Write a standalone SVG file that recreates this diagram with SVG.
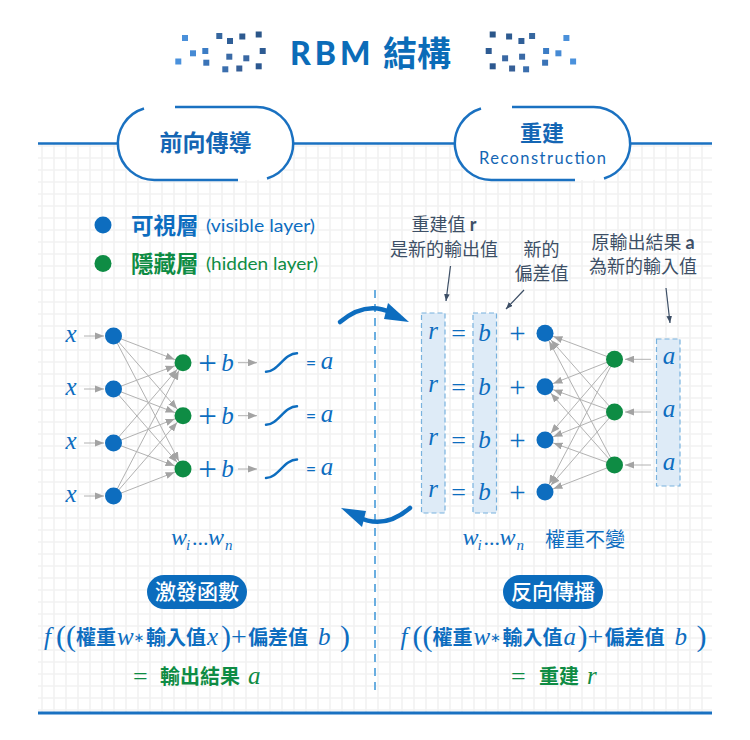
<svg xmlns="http://www.w3.org/2000/svg" width="750" height="740" viewBox="0 0 750 740">
  <defs>
    <style>
      .cjk { font-family: 'Noto Sans CJK TC', sans-serif; }
      .lat { font-family: Lato, 'Noto Sans CJK TC', sans-serif; }
      .mi { font-family: 'Liberation Serif', 'DejaVu Serif', serif; font-style: italic; }
      .mu { font-family: 'Liberation Serif', 'DejaVu Serif', serif; }
      .blue { fill: #0d6dbf; }
      .grn { fill: #0e8c44; }
      .note { fill: #3d4f66; font-size: 18px; }
      .vis { fill: #0d6dbf; }
      .hid { fill: #0e8c44; }
      .edge { stroke: #b2b2b2; stroke-width: 1; fill: none; }
      .frame { stroke: #1a71c1; fill: none; }
      .box { fill: #deebf7; stroke: #79b2de; stroke-width: 1.2; stroke-dasharray: 5 3; }
      .sq { stroke: none; }
      .ast { font-family: 'DejaVu Sans', sans-serif; font-size: 13px; }
    </style>
    <pattern id="grid" width="12" height="12" patternUnits="userSpaceOnUse" x="36" y="140">
      <path d="M6,0 V12 M0,6 H12" stroke="#f2f2f2" stroke-width="1.6" fill="none"/>
    </pattern>
    <!-- plain arrowhead, tip at the line end -->
    <marker id="ah" viewBox="0 0 10 8" refX="10" refY="4" markerWidth="9" markerHeight="7.2" markerUnits="userSpaceOnUse" orient="auto">
      <path d="M0,0 L10,4 L0,8 z" fill="#a3a3a3"/>
    </marker>
    <!-- arrowhead that stops at the rim of a node (r≈9) -->
    <marker id="ahn" viewBox="0 0 10 8" refX="20" refY="4" markerWidth="9" markerHeight="7.2" markerUnits="userSpaceOnUse" orient="auto">
      <path d="M0,0 L10,4 L0,8 z" fill="#a3a3a3"/>
    </marker>
    <marker id="ahd" viewBox="0 0 10 8" refX="10" refY="4" markerWidth="7" markerHeight="6" markerUnits="userSpaceOnUse" orient="auto">
      <path d="M0,0 L10,4 L0,8 z" fill="#3d4f66"/>
    </marker>
    <g id="pill">
      <path d="M154.5,107 H256.5 A36.5,36.5 0 0 1 256.5,180 H154.5 A36.5,36.5 0 0 1 154.5,107 z" fill="#ffffff"/>
      <path class="frame" stroke-width="2.5" d="M144,108.5 A36.5,36.5 0 0 0 154.5,180 L238,180"/>
      <path class="frame" stroke-width="2.5" d="M175,107 L256.5,107 A36.5,36.5 0 0 1 267,178.5"/>
    </g>
    <g id="squares">
      <rect class="sq" x="182" y="35" width="6" height="6" fill="#4a90da"/>
      <rect class="sq" x="216.3" y="33" width="6" height="6" fill="#36679f"/>
      <rect class="sq" x="227" y="38" width="6" height="6" fill="#2f5e97"/>
      <rect class="sq" x="239.3" y="33.5" width="6" height="6" fill="#2d5a90"/>
      <rect class="sq" x="255.7" y="31.5" width="6" height="6" fill="#2b5689"/>
      <rect class="sq" x="190" y="50.3" width="6" height="6" fill="#468ad4"/>
      <rect class="sq" x="202.3" y="48" width="6" height="6" fill="#3b7cc5"/>
      <rect class="sq" x="226.3" y="53.7" width="6" height="6" fill="#3a6aa6"/>
      <rect class="sq" x="243.3" y="55.3" width="6" height="6" fill="#3a68a3"/>
      <rect class="sq" x="259.7" y="48" width="6" height="6" fill="#2d5b93"/>
      <rect class="sq" x="175.3" y="58.5" width="6" height="6" fill="#4a91dc"/>
      <rect class="sq" x="203.3" y="59.7" width="6" height="6" fill="#3a73b7"/>
      <rect class="sq" x="222.3" y="66.3" width="6" height="6" fill="#3b6fae"/>
      <rect class="sq" x="236.3" y="65.5" width="6" height="6" fill="#365f97"/>
      <rect class="sq" x="255.7" y="63.3" width="6" height="6" fill="#2c5890"/>
    </g>
  </defs>

  <rect width="750" height="740" fill="#ffffff"/>

  <!-- background grid -->
  <rect x="38" y="144" width="674" height="568" fill="url(#grid)"/>

  <!-- title -->
  <g id="title">
    <use href="#squares"/>
    <use href="#squares" transform="matrix(-1,0,0,1,751.4,0)"/>
    <text x="290" y="65" class="lat" font-size="32" font-weight="900" letter-spacing="4" fill="#0b6cb8">RBM</text>
    <text x="383" y="66" class="cjk" font-size="34" font-weight="700" fill="#0b6cb8">結構</text>
  </g>

  <!-- header rule and section tabs -->
  <line x1="38" y1="143.5" x2="712" y2="143.5" stroke="#1a71c1" stroke-width="2.5"/>
  <line x1="38" y1="713" x2="712" y2="713" stroke="#1a71c1" stroke-width="3"/>

  <g id="tab-forward">
    <use href="#pill"/>
    <text x="205.5" y="151" text-anchor="middle" class="cjk" font-size="23" font-weight="700" fill="#1466b4">前向傳導</text>
  </g>
  <g id="tab-reconstruction">
    <use href="#pill" transform="translate(337,0)"/>
    <text x="542" y="141" text-anchor="middle" class="cjk" font-size="22" font-weight="700" fill="#1466b4">重建</text>
    <text x="479" y="164" class="lat" font-size="16.5" textLength="127" lengthAdjust="spacing" fill="#1466b4">Reconstruction</text>
  </g>

  <!-- legend -->
  <g id="legend">
    <circle cx="103" cy="225" r="8.5" class="vis"/>
    <text x="131" y="233.5" class="cjk" font-size="22.5" font-weight="700" fill="#0d6dbf">可視層</text>
    <text x="206" y="232" class="lat" font-size="18" textLength="109" lengthAdjust="spacingAndGlyphs" fill="#0d6dbf">(visible layer)</text>
    <circle cx="103" cy="263.5" r="8.5" class="hid"/>
    <text x="131" y="271.5" class="cjk" font-size="22.5" font-weight="700" fill="#0e8c44">隱藏層</text>
    <text x="206" y="270" class="lat" font-size="18" textLength="112" lengthAdjust="spacingAndGlyphs" fill="#0e8c44">(hidden layer)</text>
  </g>

  <!-- divider -->
  <line x1="375" y1="290" x2="375" y2="690" stroke="#6aaee0" stroke-width="2" stroke-dasharray="8 6"/>

  <!-- connectors -->
  <g id="connectors">
    <!-- forward pass: inputs -->
    <g class="edge" marker-end="url(#ah)">
      <line x1="84" y1="336" x2="104" y2="336"/>
      <line x1="84" y1="389" x2="104" y2="389"/>
      <line x1="84" y1="443" x2="104" y2="443"/>
      <line x1="84" y1="496" x2="104" y2="496"/>
      <line x1="238" y1="362.7" x2="257" y2="362.7"/>
      <line x1="238" y1="415.7" x2="257" y2="415.7"/>
      <line x1="238" y1="469" x2="257" y2="469"/>
    </g>
    <!-- forward pass: visible to hidden -->
    <g class="edge" marker-end="url(#ahn)">
      <line x1="113.5" y1="336" x2="183" y2="362.7"/>
      <line x1="113.5" y1="336" x2="183" y2="415.7"/>
      <line x1="113.5" y1="336" x2="183" y2="469"/>
      <line x1="113.5" y1="389" x2="183" y2="362.7"/>
      <line x1="113.5" y1="389" x2="183" y2="415.7"/>
      <line x1="113.5" y1="389" x2="183" y2="469"/>
      <line x1="113.5" y1="443" x2="183" y2="362.7"/>
      <line x1="113.5" y1="443" x2="183" y2="415.7"/>
      <line x1="113.5" y1="443" x2="183" y2="469"/>
      <line x1="113.5" y1="496" x2="183" y2="362.7"/>
      <line x1="113.5" y1="496" x2="183" y2="415.7"/>
      <line x1="113.5" y1="496" x2="183" y2="469"/>
    </g>
    <!-- reconstruction: hidden to visible -->
    <g class="edge" marker-end="url(#ahn)">
      <line x1="614.5" y1="359.3" x2="545" y2="333.3"/>
      <line x1="614.5" y1="359.3" x2="545" y2="386.7"/>
      <line x1="614.5" y1="359.3" x2="545" y2="440"/>
      <line x1="614.5" y1="359.3" x2="545" y2="492"/>
      <line x1="614.5" y1="412" x2="545" y2="333.3"/>
      <line x1="614.5" y1="412" x2="545" y2="386.7"/>
      <line x1="614.5" y1="412" x2="545" y2="440"/>
      <line x1="614.5" y1="412" x2="545" y2="492"/>
      <line x1="614.5" y1="465" x2="545" y2="333.3"/>
      <line x1="614.5" y1="465" x2="545" y2="386.7"/>
      <line x1="614.5" y1="465" x2="545" y2="440"/>
      <line x1="614.5" y1="465" x2="545" y2="492"/>
    </g>
    <g class="edge" marker-end="url(#ah)">
      <line x1="651" y1="359.3" x2="625" y2="359.3"/>
      <line x1="651" y1="412" x2="625" y2="412"/>
      <line x1="651" y1="465" x2="625" y2="465"/>
    </g>
    <!-- note pointers -->
    <g stroke="#3d4f66" stroke-width="1.2" marker-end="url(#ahd)">
      <line x1="450.5" y1="266" x2="446" y2="301"/>
      <line x1="524" y1="290" x2="506" y2="309"/>
      <line x1="666" y1="288" x2="670" y2="323"/>
    </g>
    <!-- cycle arrows -->
    <g id="cycle-top" fill="#0d6dbf">
      <path d="M340,322 Q366,300 392,313" stroke="#0d6dbf" stroke-width="4.5" stroke-linecap="round" fill="none"/>
      <polygon points="409,322 388,303 384,319"/>
    </g>
    <use href="#cycle-top" transform="rotate(180,375,415)"/>
  </g>

  <!-- forward pass nodes -->
  <g id="v1"><circle cx="113.5" cy="336" r="8.5" class="vis"/></g>
  <g id="v2"><circle cx="113.5" cy="389" r="8.5" class="vis"/></g>
  <g id="v3"><circle cx="113.5" cy="443" r="8.5" class="vis"/></g>
  <g id="v4"><circle cx="113.5" cy="496" r="8.5" class="vis"/></g>
  <g id="h1"><circle cx="183" cy="362.7" r="8.5" class="hid"/></g>
  <g id="h2"><circle cx="183" cy="415.7" r="8.5" class="hid"/></g>
  <g id="h3"><circle cx="183" cy="469" r="8.5" class="hid"/></g>

  <g id="forward-labels" class="blue">
    <text class="mi" font-size="25" text-anchor="middle" x="71" y="341.5">x</text>
    <text class="mi" font-size="25" text-anchor="middle" x="71" y="394.5">x</text>
    <text class="mi" font-size="25" text-anchor="middle" x="71" y="448.5">x</text>
    <text class="mi" font-size="25" text-anchor="middle" x="71" y="501.5">x</text>
    <g class="mu" font-size="33" text-anchor="middle">
      <text x="207.5" y="374">+</text>
      <text x="207.5" y="427">+</text>
      <text x="207.5" y="480.3">+</text>
    </g>
    <g class="mi" font-size="25" text-anchor="middle">
      <text x="227.5" y="370.5">b</text>
      <text x="227.5" y="423.5">b</text>
      <text x="227.5" y="477">b</text>
    </g>
    <g stroke="#0d6dbf" stroke-width="2.5" fill="none" stroke-linecap="round">
      <path d="M266,371.7 C278,371.7 284,353.3 297,353.3"/>
      <path d="M266,424.7 C278,424.7 284,406.3 297,406.3"/>
      <path d="M266,478 C278,478 284,459.6 297,459.6"/>
    </g>
    <g class="lat" font-size="18" text-anchor="middle">
      <text x="311" y="368.5">=</text>
      <text x="311" y="421.5">=</text>
      <text x="311" y="475">=</text>
    </g>
    <g class="mi" font-size="25" text-anchor="middle">
      <text x="327" y="368.5">a</text>
      <text x="327" y="421.5">a</text>
      <text x="327" y="475">a</text>
    </g>
  </g>

  <!-- reconstruction columns -->
  <rect class="box" x="421.5" y="313" width="23.5" height="200"/>
  <rect class="box" x="473" y="313" width="23.5" height="200"/>
  <rect class="box" x="656.5" y="339" width="23.5" height="147"/>

  <g id="recon-labels" class="blue">
    <g class="mi" font-size="25" text-anchor="middle">
      <text x="433" y="338.5">r</text>
      <text x="433" y="392">r</text>
      <text x="433" y="445">r</text>
      <text x="433" y="497">r</text>
      <text x="484.5" y="341">b</text>
      <text x="484.5" y="394.5">b</text>
      <text x="484.5" y="447.5">b</text>
      <text x="484.5" y="499.5">b</text>
      <text x="669" y="364">a</text>
      <text x="669" y="417">a</text>
      <text x="669" y="470">a</text>
    </g>
    <g class="mu" font-size="26" text-anchor="middle">
      <text x="458.5" y="342">=</text>
      <text x="458.5" y="395.5">=</text>
      <text x="458.5" y="448.5">=</text>
      <text x="458.5" y="500.5">=</text>
    </g>
    <g class="mu" font-size="29" text-anchor="middle">
      <text x="517.5" y="343">+</text>
      <text x="517.5" y="396.5">+</text>
      <text x="517.5" y="449.5">+</text>
      <text x="517.5" y="501.5">+</text>
    </g>
  </g>

  <!-- reconstruction nodes -->
  <g id="rv1"><circle cx="545" cy="333.3" r="8.5" class="vis"/></g>
  <g id="rv2"><circle cx="545" cy="386.7" r="8.5" class="vis"/></g>
  <g id="rv3"><circle cx="545" cy="440" r="8.5" class="vis"/></g>
  <g id="rv4"><circle cx="545" cy="492" r="8.5" class="vis"/></g>
  <g id="rh1"><circle cx="614.5" cy="359.3" r="8.5" class="hid"/></g>
  <g id="rh2"><circle cx="614.5" cy="412" r="8.5" class="hid"/></g>
  <g id="rh3"><circle cx="614.5" cy="465" r="8.5" class="hid"/></g>

  <!-- notes -->
  <g id="notes" class="cjk note" text-anchor="middle">
    <text x="444" y="231">重建值 <tspan class="lat" font-weight="700">r</tspan></text>
    <text x="444" y="256">是新的輸出值</text>
    <text x="541.5" y="256">新的</text>
    <text x="541.5" y="280">偏差值</text>
    <text x="643" y="249">原輸出結果 <tspan class="lat" font-weight="700">a</tspan></text>
    <text x="643" y="273">為新的輸入值</text>
  </g>

  <!-- weights -->
  <g id="weights" class="blue">
    <text class="mi" font-size="24" x="171" y="545">w</text>
    <text class="mi" font-size="15" x="186" y="550">i</text>
    <text class="mu" font-size="22" x="192" y="545">...</text>
    <text class="mi" font-size="24" x="208" y="545">w</text>
    <text class="mi" font-size="15" x="225" y="550">n</text>
    <text class="mi" font-size="24" x="462.5" y="545">w</text>
    <text class="mi" font-size="15" x="477.5" y="550">i</text>
    <text class="mu" font-size="22" x="483.5" y="545">...</text>
    <text class="mi" font-size="24" x="499.5" y="545">w</text>
    <text class="mi" font-size="15" x="516.5" y="550">n</text>
    <text class="cjk" font-size="20" x="545" y="547">權重不變</text>
  </g>

  <!-- badges -->
  <g id="badge-activation">
    <rect x="147" y="575" width="100" height="34" rx="17" fill="#0b6cbd"/>
    <text x="197" y="599" text-anchor="middle" class="cjk" font-size="21" font-weight="500" fill="#ffffff">激發函數</text>
  </g>
  <g id="badge-backward">
    <rect x="503" y="575" width="100" height="34" rx="17" fill="#0b6cbd"/>
    <text x="553" y="599" text-anchor="middle" class="cjk" font-size="21" font-weight="500" fill="#ffffff">反向傳播</text>
  </g>

  <!-- formulas -->
  <g id="formula-forward" class="blue">
    <text class="mi" font-size="25" x="44" y="645">f</text>
    <text class="mu" font-size="30" x="56" y="646">((</text>
    <text class="cjk" font-size="20" font-weight="700" x="76" y="645">權重</text>
    <text class="mi" font-size="25" x="117" y="645">w</text>
    <text class="ast" x="133.5" y="642">∗</text>
    <text class="cjk" font-size="20" font-weight="700" x="146" y="645">輸入值</text>
    <text class="mi" font-size="25" x="207" y="645">x</text>
    <text class="mu" font-size="30" x="221" y="646">)</text>
    <text class="mu" font-size="28" x="231" y="646">+</text>
    <text class="cjk" font-size="20" font-weight="700" x="248" y="645">偏差值</text>
    <text class="mi" font-size="25" x="318" y="645">b</text>
    <text class="mu" font-size="30" x="340" y="646">)</text>
  </g>
  <g id="result-forward" class="grn">
    <text class="mu" font-size="26" x="133" y="685">=</text>
    <text class="cjk" font-size="20" font-weight="700" x="160" y="684">輸出結果</text>
    <text class="mi" font-size="25" x="248" y="684">a</text>
  </g>
  <g id="formula-backward" class="blue">
    <text class="mi" font-size="25" x="400.5" y="645">f</text>
    <text class="mu" font-size="30" x="412.5" y="646">((</text>
    <text class="cjk" font-size="20" font-weight="700" x="432.5" y="645">權重</text>
    <text class="mi" font-size="25" x="473.5" y="645">w</text>
    <text class="ast" x="490" y="642">∗</text>
    <text class="cjk" font-size="20" font-weight="700" x="502.5" y="645">輸入值</text>
    <text class="mi" font-size="25" x="563.5" y="645">a</text>
    <text class="mu" font-size="30" x="577.5" y="646">)</text>
    <text class="mu" font-size="28" x="587.5" y="646">+</text>
    <text class="cjk" font-size="20" font-weight="700" x="604.5" y="645">偏差值</text>
    <text class="mi" font-size="25" x="674.5" y="645">b</text>
    <text class="mu" font-size="30" x="696.5" y="646">)</text>
  </g>
  <g id="result-backward" class="grn">
    <text class="mu" font-size="26" x="511" y="685">=</text>
    <text class="cjk" font-size="20" font-weight="700" x="539" y="684">重建</text>
    <text class="mi" font-size="25" x="587" y="684">r</text>
  </g>
</svg>
